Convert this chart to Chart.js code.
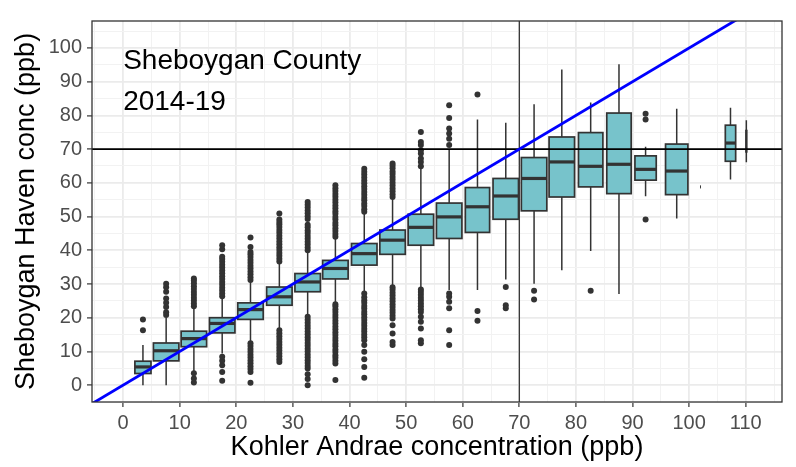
<!DOCTYPE html>
<html>
<head>
<meta charset="utf-8">
<script src="https://cdn.jsdelivr.net/npm/chart.js@4.4.1/dist/chart.umd.min.js"></script>
<style>
  html, body { margin: 0; padding: 0; background: #ffffff; }
  canvas { display: block; }
</style>
</head>
<body>
<canvas id="grafico" width="796" height="467"></canvas>
<script>
// Centres of the Kohler Andrae bins (ppb)
const binCenters = [3.5, 7.6, 12.5, 17.5, 22.5, 27.6, 32.6, 37.5, 42.6, 47.6, 52.6, 57.6,
  62.6, 67.6, 72.6, 77.5, 82.6, 87.6, 92.3, 97.8, 102.0, 107.3, 110.1];

// Box statistics of Sheboygan Haven conc per bin (ppb)
const q1 = [3.45, 7.2, 11.4, 15.5, 19.5, 23.7, 27.7, 31.5, 35.6, 38.8, 41.5, 43.5,
  45.3, 49.2, 51.7, 55.8, 58.8, 56.8, 60.8, 56.5, 58.8, 66.4, 69.2];
const medians = [5.4, 10.2, 13.8, 18.3, 22.4, 26.2, 30.6, 34.6, 39.0, 43.0, 46.8, 49.9,
  52.9, 56.1, 61.3, 66.2, 64.9, 65.5, 64.0, 63.5, 58.8, 71.8, 72.4];
const q3 = [7.1, 12.5, 16.0, 20.0, 24.4, 29.1, 33.1, 37.0, 42.0, 46.0, 50.7, 54.0,
  58.6, 61.3, 67.5, 73.6, 74.9, 80.7, 68.0, 71.5, 58.8, 77.1, 75.5];
const whiskerLow = [0, 0, 4.2, 9.4, 12.9, 16.8, 20.8, 24.6, 27.6, 29.4, 28.8, 28.2,
  28.2, 31.3, 30.1, 34.1, 39.8, 27.0, 56.0, 49.4, 58.8, 61.0, 66.1];
const whiskerHigh = [11.9, 20.0, 22.8, 25.8, 30.6, 36.1, 39.5, 43.5, 51.0, 55.3, 64.3, 69.9,
  78.8, 77.8, 83.3, 93.6, 83.8, 95.2, 70.7, 82.0, 58.8, 82.3, 78.6];

// Relative number of observations per bin (box width ~ sqrt(n))
const binCounts = [400, 1000, 1000, 1000, 1000, 1000, 1000, 1000, 1000, 1000, 1000, 1000,
  910, 1000, 1000, 1000, 920, 920, 700, 770, 1, 165, 1];

// Outliers per bin (ppb)
const outliers = [
  [16.3, 19.5],
  [20.8, 21.6, 23.2, 24.4, 25.7, 27.7, 29.0, 30.1],
  [0.8, 2.0, 3.5, 23.4, 24.2, 25.1, 25.9, 26.8, 27.6, 28.5, 29.3, 30.2, 31.0, 31.6],
  [1.3, 3.9, 5.9, 7.2, 8.4, 26.4, 27.2, 28.1, 28.9, 29.8, 30.6, 31.5, 32.3, 33.2, 34.0,
    34.9, 35.7, 36.6, 37.4, 38.1, 40.3, 41.5],
  [0.7, 3.9, 4.8, 5.6, 6.5, 7.3, 8.2, 9.0, 9.9, 10.7, 11.6, 12.4, 31.2, 32.0, 32.9, 33.7,
    34.6, 35.4, 36.3, 37.1, 38.0, 38.8, 39.5, 41.0, 43.8],
  [6.9, 7.7, 8.6, 9.4, 10.3, 11.1, 12.0, 12.8, 13.7, 14.5, 15.4, 16.3, 36.7, 37.5, 38.4,
    39.2, 40.1, 40.9, 41.8, 42.6, 43.5, 44.3, 45.2, 46.0, 46.9, 47.7, 48.4, 49.1, 50.9],
  [0, 1.8, 3.2, 4.9, 5.7, 6.6, 7.4, 8.3, 9.1, 10.0, 10.8, 11.7, 12.5, 13.4, 14.2, 15.1,
    15.9, 16.8, 17.6, 18.5, 19.4, 20.3, 40.0, 40.8, 41.7, 42.5, 43.4, 44.2, 45.1, 45.9,
    46.8, 47.6, 49.3, 50.1, 51.0, 51.8, 52.7, 53.5, 54.3],
  [1.5, 6.4, 7.2, 8.1, 8.9, 9.8, 10.6, 11.5, 12.3, 13.2, 14.0, 14.9, 15.7, 16.6, 17.4,
    18.3, 19.1, 20.0, 20.8, 21.7, 22.5, 23.4, 24.0, 44.0, 44.8, 45.7, 46.5, 47.4, 48.2,
    49.1, 49.9, 50.8, 51.6, 52.5, 53.3, 54.2, 55.0, 55.9, 56.7, 57.6, 58.4, 59.3],
  [2.2, 5.4, 7.7, 9.9, 11.9, 13.3, 14.2, 15.0, 15.9, 16.7, 17.6, 18.4, 19.3, 20.1, 21.0,
    21.8, 22.7, 23.5, 24.4, 25.2, 26.1, 27.2, 51.4, 52.2, 53.1, 53.9, 54.8, 55.6, 56.5,
    57.3, 58.2, 59.0, 59.9, 60.7, 61.6, 62.5, 63.3, 64.2],
  [11.9, 12.8, 15.3, 17.8, 19.8, 20.6, 21.5, 22.3, 23.2, 24.0, 24.9, 25.7, 26.6, 27.4,
    28.3, 29.0, 55.8, 56.6, 57.5, 58.3, 59.2, 60.0, 60.9, 61.7, 62.6, 63.4, 64.3, 65.1, 65.7],
  [12.4, 13.3, 16.8, 18.8, 20.3, 21.7, 22.5, 23.4, 24.2, 25.1, 25.9, 26.8, 27.6, 28.4,
    64.9, 66.2, 67.2, 68.7, 69.7, 71.2, 72.1, 75.1],
  [11.9, 16.3, 22.8, 24.7, 26.2, 27.2, 71.2, 73.1, 74.6, 76.1, 79.2, 83.0],
  [19.1, 22.0, 86.2],
  [22.8, 23.7, 29.1],
  [25.4, 28.0],
  [],
  [28.0],
  [],
  [49.1, 78.8, 80.5],
  [],
  [],
  [],
  []
];

// Axes
const xTicks = [0, 10, 20, 30, 40, 50, 60, 70, 80, 90, 100, 110];
const yTicks = [0, 10, 20, 30, 40, 50, 60, 70, 80, 90, 100];
const xMin = -5.5, xMax = 116.4;
const yMin = -5, yMax = 108;

// Reference lines: 70 ppb threshold on both axes, and 1:1 line
const threshold = 70;
const oneToOneSlope = 1;

const labelLines = ['Sheboygan County', '2014-19'];
const labelX = 0;
const labelY = [93.7, 81.5];

const fonte = "'Liberation Sans', Arial, Helvetica, sans-serif";
const caixaCor = '#77C3CB';
const escuro = '#333333';
const larguraMax = 4.5;
const contagemMax = Math.max(...binCounts);

// Grid every 5 ppb; labels only on the ticks above
function gradeDe(ticks) {
  const valores = [];
  for (let v = ticks[0] - 5; v <= ticks[ticks.length - 1] + 5; v += 5) valores.push(v);
  return valores;
}

function eixo(ticks, min, max) {
  const grade = gradeDe(ticks);
  return {
    type: 'linear',
    min: min,
    max: max,
    afterBuildTicks: (scale) => { scale.ticks = grade.map(v => ({ value: v })); },
    grid: {
      color: (c) => ticks.includes(c.tick && c.tick.value) ? '#EBEBEB' : '#F2F2F2',
      lineWidth: (c) => ticks.includes(c.tick && c.tick.value) ? 1.8 : 1,
      tickColor: (c) => ticks.includes(c.tick && c.tick.value) ? escuro : 'rgba(0,0,0,0)',
      tickLength: 5,
      tickWidth: 1.2,
      drawTicks: true
    },
    border: { display: false },
    ticks: {
      autoSkip: false,
      maxRotation: 0,
      color: '#4D4D4D',
      font: { family: fonte, size: 20 },
      callback: (v) => ticks.includes(v) ? String(v) : ''
    }
  };
}

// Boxes and whiskers, drawn through the chart scales
const caixasPlugin = {
  id: 'caixas',
  beforeDatasetsDraw(chart) {
    const { ctx, chartArea, scales: { x, y } } = chart;
    ctx.save();
    ctx.beginPath();
    ctx.rect(chartArea.left, chartArea.top, chartArea.width, chartArea.height);
    ctx.clip();
    binCenters.forEach((c, i) => {
      const meia = larguraMax * Math.sqrt(binCounts[i] / contagemMax) / 2;
      const x0 = x.getPixelForValue(c - meia);
      const x1 = x.getPixelForValue(c + meia);
      const xc = x.getPixelForValue(c);
      const yq1 = y.getPixelForValue(q1[i]);
      const yq3 = y.getPixelForValue(q3[i]);
      const ymed = y.getPixelForValue(medians[i]);

      ctx.strokeStyle = escuro;
      ctx.lineWidth = 1.5;
      ctx.beginPath();
      ctx.moveTo(xc, y.getPixelForValue(whiskerLow[i]));
      ctx.lineTo(xc, yq1);
      ctx.moveTo(xc, yq3);
      ctx.lineTo(xc, y.getPixelForValue(whiskerHigh[i]));
      ctx.stroke();

      ctx.fillStyle = caixaCor;
      ctx.lineWidth = 1.7;
      ctx.fillRect(x0, yq3, x1 - x0, yq1 - yq3);
      ctx.strokeRect(x0, yq3, x1 - x0, yq1 - yq3);

      ctx.lineWidth = 3.2;
      ctx.beginPath();
      ctx.moveTo(x0, ymed);
      ctx.lineTo(x1, ymed);
      ctx.stroke();
    });
    ctx.restore();
  },
  afterDatasetsDraw(chart) {
    const { ctx, scales: { x, y } } = chart;
    ctx.save();
    ctx.fillStyle = '#000000';
    ctx.font = '28px ' + fonte;
    ctx.textAlign = 'left';
    ctx.textBaseline = 'alphabetic';
    labelLines.forEach((t, i) => {
      ctx.fillText(t, x.getPixelForValue(labelX), y.getPixelForValue(labelY[i]));
    });
    ctx.restore();
  },
  afterDraw(chart) {
    const { ctx, chartArea } = chart;
    ctx.save();
    ctx.strokeStyle = escuro;
    ctx.lineWidth = 1.3;
    ctx.strokeRect(chartArea.left, chartArea.top, chartArea.width, chartArea.height);
    ctx.restore();
  }
};

const pontosOutliers = binCenters.flatMap((c, i) => outliers[i].map(v => ({ x: c, y: v })));

const eixoX = eixo(xTicks, xMin, xMax);
eixoX.afterFit = (scale) => { scale.height = 65; };
eixoX.ticks.padding = 4;
eixoX.title = {
  display: true,
  text: 'Kohler Andrae concentration (ppb)',
  color: '#000000',
  font: { family: fonte, size: 27, lineHeight: 1 },
  padding: { top: 0, bottom: 6 }
};

const eixoY = eixo(yTicks, yMin, yMax);
eixoY.afterFit = (scale) => { scale.width = 92; };
eixoY.ticks.padding = 5;
eixoY.title = {
  display: true,
  text: 'Sheboygan Haven conc (ppb)',
  color: '#000000',
  font: { family: fonte, size: 27, lineHeight: 1 },
  padding: { top: 13.5, bottom: 0 }
};

new Chart(document.getElementById('grafico').getContext('2d'), {
  type: 'scatter',
  data: {
    datasets: [
      {
        label: '1:1',
        data: [{ x: xMin, y: xMin * oneToOneSlope }, { x: xMax, y: xMax * oneToOneSlope }],
        showLine: true,
        borderColor: '#0000FF',
        borderWidth: 2.8,
        pointRadius: 0
      },
      {
        label: 'limite y',
        data: [{ x: xMin, y: threshold }, { x: xMax, y: threshold }],
        showLine: true,
        borderColor: '#000000',
        borderWidth: 1.8,
        pointRadius: 0
      },
      {
        label: 'limite x',
        data: [{ x: threshold, y: yMin }, { x: threshold, y: yMax }],
        showLine: true,
        borderColor: '#3A3A3A',
        borderWidth: 1.3,
        pointRadius: 0
      },
      {
        label: 'outliers',
        data: pontosOutliers,
        pointRadius: 3,
        pointBorderWidth: 0,
        pointBackgroundColor: escuro,
        pointBorderColor: escuro
      }
    ]
  },
  options: {
    responsive: false,
    animation: false,
    layout: { padding: { top: 21, right: 14, left: 0, bottom: 0 } },
    plugins: {
      legend: { display: false },
      tooltip: { enabled: false }
    },
    scales: { x: eixoX, y: eixoY }
  },
  plugins: [caixasPlugin]
});
</script>
</body>
</html>
